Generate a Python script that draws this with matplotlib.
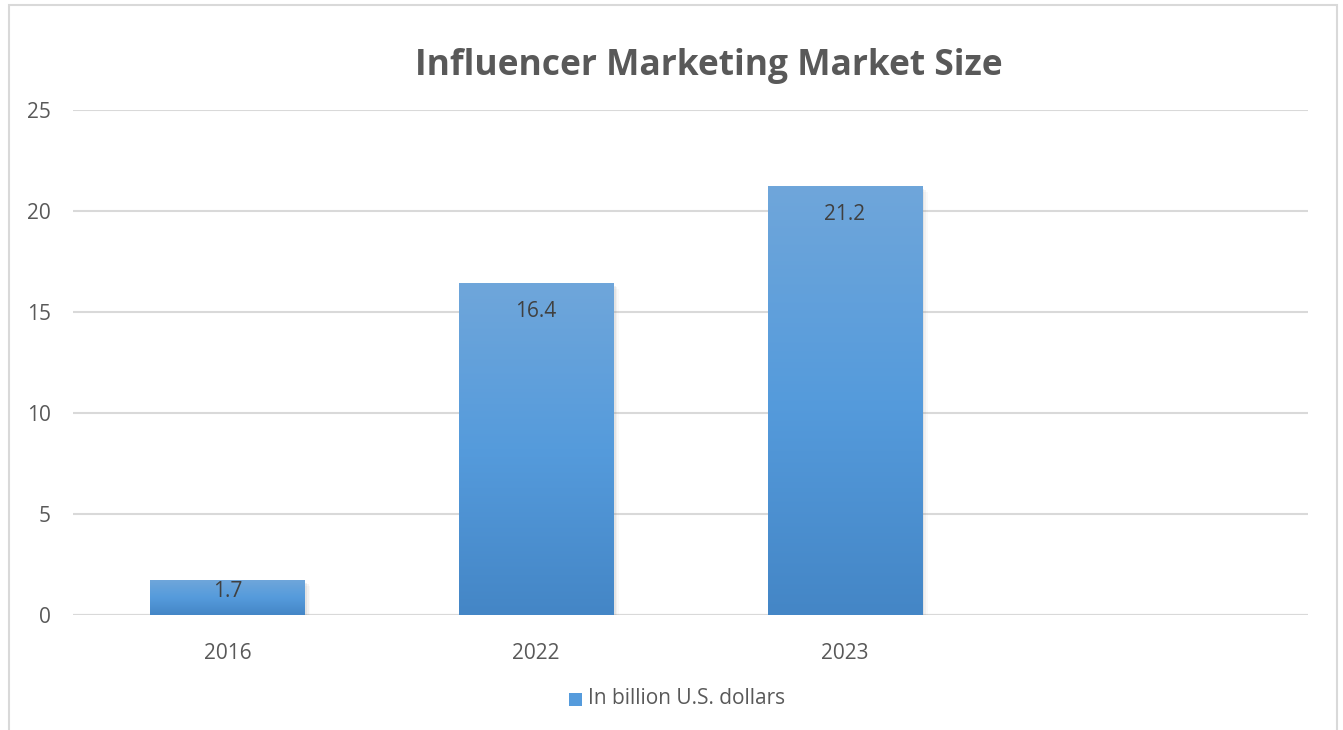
import numpy as np
import matplotlib
matplotlib.use("Agg")
import matplotlib.pyplot as plt
from matplotlib.patches import Rectangle
from matplotlib.colors import LinearSegmentedColormap

years = ["2016", "2022", "2023", ""]
values = [1.7, 16.4, 21.2, None]
series_name = "In billion U.S. dollars"
title = "Influencer Marketing Market Size"

plt.rcParams["font.family"] = ["Open Sans", "DejaVu Sans"]

W, H = 1343, 730
fig = plt.figure(figsize=(W / 100, H / 100), dpi=100)
fig.patch.set_facecolor("white")

# chart frame
fig.patches.append(Rectangle((9 / W, -0.01), (1337 - 9) / W, (H - 5) / H + 0.01,
                             transform=fig.transFigure, fill=False,
                             edgecolor="#D9D9D9", linewidth=1.5))

ax = fig.add_axes([73 / W, 1 - 615 / H, (1308 - 73) / W, (615 - 110) / H])
ax.set_xlim(-0.5, len(years) - 0.5)
ax.set_ylim(0, 25)
ax.set_yticks(range(0, 26, 5))
ax.set_xticks(range(len(years)))
ax.set_xticklabels(years)
for s in ax.spines.values():
    s.set_visible(False)
ax.tick_params(length=0, labelsize=15, colors="#595959")
ax.tick_params(axis="y", pad=16)
ax.tick_params(axis="x", pad=20)
ax.grid(axis="y", color="#D9D9D9", linewidth=1.5, zorder=0)
ax.axhline(0, color="#D9D9D9", linewidth=1.5, zorder=1)

cmap = LinearSegmentedColormap.from_list("blue_grad", ["#4486C6", "#559BDC", "#6FA6DA"])
grad = np.linspace(0, 1, 256).reshape(-1, 1)
bw = 0.5

for i, v in enumerate(values):
    if v is None:
        continue
    # soft drop shadow
    for k, a in enumerate([0.10, 0.07, 0.04]):
        dx = 0.006 + k * 0.004
        ax.add_patch(Rectangle((i - bw / 2 + dx * 0.3, -0.15 - k * 0.08), bw + dx, v + 0.05,
                               facecolor="#7F7F7F", edgecolor="none", alpha=a, zorder=2))
    ax.imshow(grad, extent=(i - bw / 2, i + bw / 2, 0, v), origin="lower",
              cmap=cmap, aspect="auto", zorder=3, interpolation="bilinear")
    pad = 17 if v > 3 else 0
    ax.annotate(f"{v}", (i, v), xytext=(0, -pad), textcoords="offset pixels",
                ha="center", va="top", fontsize=15, color="#404040", zorder=4)

ax.set_xlim(-0.5, len(years) - 0.5)
ax.set_ylim(0, 25)

fig.text(709 / W, 1 - 66 / H, title, ha="center", va="center",
         fontsize=25.5, fontweight="bold", color="#595959")

# legend
fig.patches.append(Rectangle((569 / W, 1 - 706 / H), 13 / W, 13 / H,
                             transform=fig.transFigure, facecolor="#559BDC",
                             edgecolor="none"))
fig.text(588 / W, 1 - 699 / H, series_name, ha="left", va="center",
         fontsize=15, color="#595959")

fig.savefig("out.png", dpi=100)
